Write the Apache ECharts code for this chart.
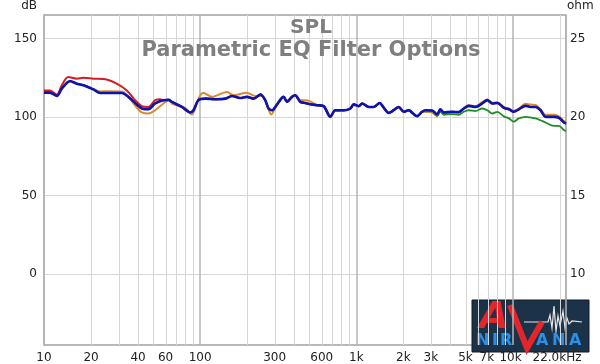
<!DOCTYPE html>
<html><head><meta charset="utf-8">
<script src="https://cdn.jsdelivr.net/npm/echarts@6/dist/echarts.min.js"></script>
<style>html,body{margin:0;padding:0;background:#fff}#c{width:600px;height:364px}</style>
</head><body><div id="c"></div>
<script>
// ---- data ----
const titleMain = 'SPL';
const titleSub = 'Parametric EQ Filter Options';
const xMin = 10, xMax = 22000;
const xTickLabels = [10,20,40,60,100,300,600,1000,2000,3000,5000,7000,10000,22000];
const xMinorLines = [20,30,40,50,60,70,80,90,200,300,400,500,600,700,800,900,2000,3000,4000,5000,6000,7000,8000,9000,20000];
const yLeftTicks = [0,50,100,150];
const yRightTicks = [10,15,20,25];

const blueFreq = [10,10.9,12.1,13,14.7,16.2,17.9,20.7,22.9,26.5,31.5,34.7,39.3,42.3,46.6,51.5,58.2,62.7,65.9,76.4,86.3,90.6,97.5,108,125,145,160,180,199,220,243,261,274,289,310,342,360,387,406,438,471,507,560,617,681,733,829,915,961,1035,1089,1200,1292,1411,1496,1611,1734,1868,2011,2165,2309,2448,2636,2768,3055,3290,3452,3627,4106,4525,4873,5248,5794,6397,6889,7419,7990,8799,9477,10190,10970,12110,13040,14040,15120,16280,18400,19820,21330,22000];
const blueSpl = [115.6,115.6,113.5,118.2,123,121.3,120.3,117.7,115.4,115.4,115.4,112.9,108,105.5,105,108.7,110.8,111,109.7,106.5,103,104.4,110.8,111.8,111.4,111.8,113.5,112.2,112.9,111.8,114.4,110.8,105.5,104.4,108,112.9,109.7,112.9,113.9,109.7,109,108.2,107.6,107,100.2,104.4,104.4,105.5,108.2,107,108.7,106.5,106.5,109,106.1,102.7,104.4,106.5,103.4,104.4,102.3,100.6,103.4,104.4,104.2,101.7,105,103,103.4,103.2,105.5,107.2,106.5,108.7,110.8,108.7,109,105.9,105,103.4,105,107.2,106.5,106.5,104.4,100.2,100.2,99.6,96.6,96];

// red differs from blue below ~60 Hz, identical above
const redLowFreq = [10,10.9,12.1,13,14.3,16.2,17.9,20.7,25.2,29.2,33.9,38.3,42.3,46.6,51.5,55.5,58.2];
const redLowSpl = [117,117,114.4,120.3,125.5,124.5,125.1,124.5,123.9,121.3,117,110.8,107,106.5,110.8,111.4,110.8];

const orangeFreq = [10,10.9,12.1,13,14.7,16.2,17.9,20.7,22.9,26.5,31.5,34.7,39.3,42.3,46.6,51.5,58.2,62.7,65.9,80.2,88.5,97.5,104.5,118.9,148.3,163.4,199,225.6,249,268,285,310,342,360,387,406,438,471,507,560,617,681,733,829,915,961,1035,1089,1200,1292,1411,1496,1611,1734,1868,2011,2165,2309,2448,2636,2768,3055,3290,3452,3627,4106,4525,4873,5248,5794,6397,6889,7419,7990,8799,9477,10190,10970,12110,13040,14040,15120,16280,18400,19820,21330,22000];
const orangeSpl = [115.8,116,113.8,118,122.5,121,120.5,117.8,116.3,116.5,116.3,113,105.9,103,102.3,104.4,108.7,110.8,108.7,105.9,101.7,111.8,115.6,112.9,116,113.9,115.6,113.5,113.5,107.6,101.7,108,112.9,110.5,112.9,113.9,110.8,110.8,110,107.6,107,100.8,104,104,105.2,107.5,107,108.7,106.5,106.5,108.8,106.1,102.7,104.4,106.5,103.4,104.4,102.3,100.6,103.4,103.5,103.5,101,104.5,102.5,103,103,105.5,107.5,107,109.5,111.2,109.2,109.5,106.5,105.5,104,105.5,108.5,108,107.8,105,101.5,101.5,100.5,97.5,97];

// green identical to blue below ~2.7 kHz
const greenHighFreq = [2768,3055,3290,3452,3627,4106,4525,4873,5248,5794,6397,6889,7419,7990,8799,9477,10190,10970,12110,13040,14040,15120,16280,18400,19820,21330,22000];
const greenHighSpl = [103.5,103,100.5,103.5,101.5,102,101.5,103.4,104.4,103.8,105.5,104.4,102.3,103.4,100.5,99.2,97.1,99.2,100.2,99.8,99.2,98,96.6,94.5,94.5,91.8,91];

// ---- build series data ----
const pairs = (f, v) => f.map((x, i) => [x, v[i]]);
const bluePts = pairs(blueFreq, blueSpl);
const redPts = pairs(redLowFreq, redLowSpl).concat(bluePts.filter(p => p[0] > 60));
const orangePts = pairs(orangeFreq, orangeSpl);
const greenPts = bluePts.filter(p => p[0] < 2700).concat(pairs(greenHighFreq, greenHighSpl));

const FONT = 'DejaVu Sans';
const labelFmt = v => v >= 22000 ? '{r|22.0kHz}' : v >= 1000 ? (v === 10000 ? '{t|10k}' : v === 7000 ? '{s|7k}' : (v / 1000) + 'k') : String(v);
const richLbl = pad => ({padding: pad, fontFamily: FONT, fontSize: 12, color: '#222'});
const logoLetter = (t, x) => ({type: 'text', x: x, y: 41, style: {text: t, fill: '#2a8fe6', font: 'bold 16px "DejaVu Sans"', verticalAlign: 'middle'}});

// vertical minor grid line drawn at the frequency's position on the log x axis
function renderGridLine(params, api) {
  const cs = params.coordSys;
  const x = Math.round(api.coord([api.value(0), 100])[0]) + 0.5;
  return {type: 'line', silent: true, shape: {x1: x, y1: cs.y, x2: x, y2: cs.y + cs.height},
          style: {stroke: '#d6d6d6', lineWidth: 1}};
}

const chart = echarts.init(document.getElementById('c'), null, {renderer: 'canvas'});
chart.setOption({
  animation: false,
  backgroundColor: '#ffffff',
  grid: {left: 44, right: 34, top: 14, bottom: 19, show: true, borderColor: '#a2a2a2', borderWidth: 1.5, backgroundColor: 'transparent'},
  xAxis: [{
    type: 'log', logBase: 10, min: xMin, max: xMax,
    axisLine: {show: false},
    axisTick: {show: false},
    splitLine: {show: true, lineStyle: {color: '#b4b4b4', width: 1.5}},
    axisLabel: {customValues: xTickLabels, formatter: labelFmt, color: '#222', fontFamily: FONT, fontSize: 12, margin: 7,
      rich: {r: richLbl([0, 18, 0, 0]), t: richLbl([0, 4, 0, 0]), s: richLbl([0, 3, 0, 0])}}
  }],
  yAxis: [{
    type: 'value', min: -45, max: 165, position: 'left',
    name: 'dB', nameLocation: 'end', nameGap: 3,
    nameTextStyle: {align: 'right', verticalAlign: 'bottom', padding: [0, 7, 0, 0], color: '#222', fontFamily: FONT, fontSize: 12},
    axisLine: {show: false}, axisTick: {show: false, customValues: yLeftTicks},
    axisLabel: {customValues: yLeftTicks, color: '#222', fontFamily: FONT, fontSize: 12, margin: 7},
    splitLine: {show: true, lineStyle: {color: '#d6d6d6', width: 1}}
  }, {
    type: 'value', min: 5.5, max: 26.5, position: 'right',
    name: 'ohm', nameLocation: 'end', nameGap: 3,
    nameTextStyle: {align: 'left', verticalAlign: 'bottom', padding: [0, 0, 0, 1], color: '#222', fontFamily: FONT, fontSize: 12},
    axisLine: {show: false}, axisTick: {show: false, customValues: yRightTicks},
    axisLabel: {customValues: yRightTicks, color: '#222', fontFamily: FONT, fontSize: 12, margin: 4},
    splitLine: {show: false}
  }],
  series: [
    {name: 'minor-grid', type: 'custom', renderItem: renderGridLine, data: xMinorLines.map(v => [v]),
     encode: {x: 0}, silent: true, z: 1, clip: false, tooltip: {show: false}},
    {name: 'green', type: 'line', data: greenPts, showSymbol: false, smooth: 0.3, lineStyle: {color: '#1f8c25', width: 1.8}, itemStyle: {color: '#1f8c25'}, z: 2},
    {name: 'orange', type: 'line', data: orangePts, showSymbol: false, smooth: 0.3, lineStyle: {color: '#d98a2c', width: 2}, itemStyle: {color: '#d98a2c'}, z: 3},
    {name: 'red', type: 'line', data: redPts, showSymbol: false, smooth: 0.3, lineStyle: {color: '#d41c22', width: 2}, itemStyle: {color: '#d41c22'}, z: 4},
    {name: 'blue', type: 'line', data: bluePts, showSymbol: false, smooth: 0.3, lineStyle: {color: '#0c14b0', width: 2.6}, itemStyle: {color: '#0c14b0'}, z: 5}
  ],
  graphic: [
    {type: 'text', x: 311, y: 28, z: 10, style: {text: titleMain, fill: '#7f7f7f', font: 'bold 20px "DejaVu Sans"', align: 'center', verticalAlign: 'middle'}},
    {type: 'text', x: 311, y: 51, z: 10, style: {text: titleSub, fill: '#7f7f7f', font: 'bold 21px "DejaVu Sans"', align: 'center', verticalAlign: 'middle'}},
    {type: 'group', x: 472, y: 300, z: 20, children: [
      {type: 'rect', shape: {x: 0, y: 0, width: 117, height: 52}, style: {fill: '#1c3248', stroke: '#0e1a27', lineWidth: 1}},
      {type: 'polyline', shape: {points: [[52, 22], [76, 22], [78, 15], [80, 28], [82, 6], [84, 31], [86, 16], [88, 26], [91, 11], [93, 28], [95, 18], [97, 24], [100, 21], [110, 22]]}, style: {stroke: '#e8e8e8', lineWidth: 1.2, fill: null}},
      {type: 'text', x: 22, y: 18, style: {text: 'A', fill: '#e3262c', font: 'italic bold 38px "DejaVu Sans"', align: 'center', verticalAlign: 'middle'}},
      {type: 'polyline', shape: {points: [[38, 5], [55, 48], [70, 22]]}, style: {stroke: '#e3262c', lineWidth: 6, fill: null, lineJoin: 'miter'}},
      logoLetter('N', 4), logoLetter('I', 20), logoLetter('R', 28),
      logoLetter('A', 64), logoLetter('N', 80), logoLetter('A', 97)
    ]}
  ]
});
</script></body></html>
